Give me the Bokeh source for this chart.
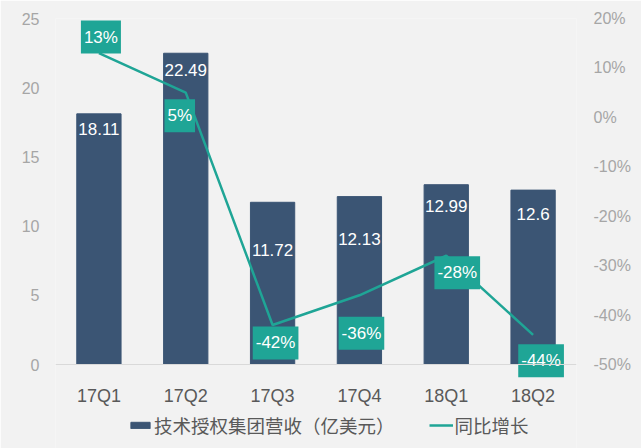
from bokeh.plotting import figure
from bokeh.models import (ColumnDataSource, Range1d, LinearAxis, FixedTicker,
                          PrintfTickFormatter, Legend, LegendItem, Span)
from bokeh.core.properties import value
from bokeh.embed import file_html
from bokeh.resources import INLINE

quarters = ["17Q1", "17Q2", "17Q3", "17Q4", "18Q1", "18Q2"]
revenue = [18.11, 22.49, 11.72, 12.13, 12.99, 12.6]
growth = [13, 5, -42, -36, -28, -44]
left_ticks = [0, 5, 10, 15, 20, 25]
right_ticks = [-50, -40, -30, -20, -10, 0, 10, 20]
bar_series = "技术授权集团营收（亿美元）"
line_series = "同比增长"

# label placement (screen px)
rev_label_dy = [15, 17, 48, 42, 21, 24]
gr_label_dx = [2, -6, 3, 2, 11, 8]
gr_label_dy = [-16, 23, 18, 38, 17, 26]

BAR = "#3B5574"
TEAL = "#1FA596"
BG = "#F2F2F2"

src = ColumnDataSource(dict(
    q=quarters, rev=revenue, gr=growth,
    rev_txt=[str(v) for v in revenue],
    gr_txt=[f"{v}%" for v in growth],
    rdy=rev_label_dy, gdx=gr_label_dx, gdy=gr_label_dy,
    zero=[0] * len(quarters),
))

# frame spans y=18..448 px; value 0 sits at y=364
H_TOP, H_ZERO, H_BOT = 18, 364, 448
lmax = 25
lmin = -(H_BOT - H_ZERO) * lmax / (H_ZERO - H_TOP)
rmax, rmin0 = 20, -50
rmin = rmin0 - (H_BOT - H_ZERO) * (rmax - rmin0) / (H_ZERO - H_TOP)

p = figure(x_range=quarters, y_range=Range1d(lmin, lmax), width=641, height=448,
           output_backend="svg", toolbar_location=None,
           min_border_left=55, min_border_right=65, min_border_top=H_TOP, min_border_bottom=0)
p.background_fill_color = BG
p.border_fill_color = BG
p.outline_line_color = None
p.grid.visible = False
p.xaxis.visible = False

p.extra_y_ranges = {"pct": Range1d(rmin, rmax)}

p.add_layout(Span(location=0, dimension="width", line_color="#D9D9D9", line_width=1))

bars = p.vbar(x="q", top="rev", width=0.51, source=src, color=BAR)
line = p.line(x="q", y="gr", source=src, y_range_name="pct", line_color=TEAL, line_width=2.5)

p.text(x="q", y="rev", text="rev_txt", source=src, y_offset="rdy",
       text_align="center", text_baseline="middle", text_color="white",
       text_font=value("Liberation Sans"), text_font_size="17px")

p.text(x="q", y="gr", text="gr_txt", source=src, y_range_name="pct",
       x_offset="gdx", y_offset="gdy",
       text_align="center", text_baseline="middle", text_color="white",
       text_font=value("Liberation Sans"), text_font_size="17px",
       background_fill_color=TEAL, padding=(3, 7))

# category labels under the zero line
p.text(x="q", y="zero", text="q", source=src, y_offset=31,
       text_align="center", text_baseline="middle", text_color="#595959",
       text_font=value("Liberation Sans"), text_font_size="18px")

# axes
ya = p.yaxis[0]
ya.ticker = FixedTicker(ticks=left_ticks)
ya.axis_line_color = None
ya.major_tick_line_color = None
ya.minor_tick_line_color = None
ya.major_label_standoff = 10
ya.major_label_text_color = "#A6A6A6"
ya.major_label_text_font = "Liberation Sans"
ya.major_label_text_font_size = "16px"

ra = LinearAxis(y_range_name="pct", ticker=FixedTicker(ticks=right_ticks),
                formatter=PrintfTickFormatter(format="%d%%"))
ra.axis_line_color = None
ra.major_tick_line_color = None
ra.minor_tick_line_color = None
ra.major_label_standoff = 11
ra.major_label_text_color = "#A6A6A6"
ra.major_label_text_font = "Liberation Sans"
ra.major_label_text_font_size = "16px"
p.add_layout(ra, "right")

legend = Legend(items=[LegendItem(label=bar_series, renderers=[bars]),
                       LegendItem(label=line_series, renderers=[line])],
                orientation="horizontal", location=(73, 10))
legend.background_fill_alpha = 0
legend.border_line_color = None
legend.glyph_width = 24
legend.glyph_height = 8
legend.label_standoff = 2
legend.spacing = 34
legend.padding = 0
legend.margin = 0
legend.label_text_font = "Noto Sans CJK SC"
legend.label_text_font_size = "18.5px"
legend.label_text_color = "#595959"
p.add_layout(legend, "center")

open("out.html", "w").write(file_html(p, INLINE))
